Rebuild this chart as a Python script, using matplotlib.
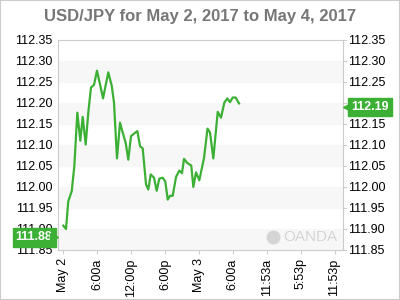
import matplotlib
matplotlib.use("Agg")
import matplotlib.pyplot as plt
import matplotlib.transforms as mtransforms
from matplotlib.patches import Rectangle

# USD/JPY, hours since May 2 00:00 and rate
hours = [0.0, 0.48, 0.88, 1.49, 1.95, 2.48, 3.01, 3.43, 3.96, 4.42, 4.90, 5.43,
         5.96, 6.55, 7.03, 7.96, 8.57, 8.97, 9.50, 10.04, 10.44, 11.04, 11.50,
         11.98, 12.69, 13.10, 13.58, 14.05, 14.64, 15.04, 15.47, 16.05, 16.53,
         16.99, 17.59, 18.05, 18.48, 18.88, 19.36, 19.95, 20.53, 21.01, 21.36,
         21.95, 22.65, 23.01, 23.49, 24.07, 24.90, 25.52, 25.96, 26.55, 27.33,
         27.91, 28.50, 29.03, 29.50, 29.98, 30.51, 31.10]
rate = [111.908, 111.900, 111.966, 111.990, 112.050, 112.177, 112.110, 112.167,
        112.101, 112.177, 112.237, 112.243, 112.277, 112.241, 112.211, 112.273,
        112.241, 112.201, 112.068, 112.153, 112.133, 112.105, 112.065, 112.121,
        112.129, 112.133, 112.097, 112.092, 112.006, 111.994, 112.030, 112.022,
        111.991, 112.020, 112.022, 112.013, 111.970, 111.979, 111.979, 112.024,
        112.039, 112.033, 112.067, 112.057, 112.051, 112.000, 112.035, 112.016,
        112.069, 112.139, 112.130, 112.068, 112.179, 112.165, 112.201, 112.211,
        112.202, 112.213, 112.213, 112.199]

tick_pos = [0, 6, 12, 18, 24, 30, 36, 42, 48]
tick_labels = ["May 2", "6:00a", "12:00p", "6:00p", "May 3", "6:00a",
               "11:53a", "5:53p", "11:53p"]
y_ticks = [111.85, 111.90, 111.95, 112.00, 112.05, 112.10, 112.15, 112.20,
           112.25, 112.30, 112.35]
low_label = 111.88
last_label = 112.19

green = "#3cb035"
plt.rcParams["font.family"] = "Liberation Sans"

fig = plt.figure(figsize=(4, 3), dpi=100)
fig.patches.append(Rectangle((0, 0), 1, 1, transform=fig.transFigure,
                             fill=False, edgecolor="#cccccc", linewidth=1.5))
ax = fig.add_axes([0.145, 0.1667, 0.7125, 0.70])

# alternating bands
for i in range(0, 10, 2):
    ax.axhspan(y_ticks[i], y_ticks[i + 1], color="#f7f7f7", zorder=0)

ax.plot(hours, rate, color=green, linewidth=1.6, zorder=3)

ax.set_xlim(-0.94, 49.5)
ax.set_ylim(111.85, 112.35)
ax.set_xticks(tick_pos)
ax.set_xticklabels(tick_labels, rotation=90, fontsize=9)
ax.set_yticks(y_ticks)
ax.set_yticklabels([f"{v:.2f}" for v in y_ticks], fontsize=9)
ax.tick_params(axis="x", length=3, color="#cccccc", pad=3)
ax.tick_params(axis="y", length=0, pad=4, left=True, right=True,
               labelleft=True, labelright=True)
for s in ax.spines.values():
    s.set_color("#cccccc")

# right-side small ticks
trans = mtransforms.blended_transform_factory(ax.transAxes, ax.transData)
for v in y_ticks:
    ax.plot([1.0, 1.01], [v, v], color="#cccccc", linewidth=0.8,
            transform=trans, clip_on=False)

# price labels with small pointers
ax.annotate(f"{last_label:.2f}", (1.0, last_label), xycoords=trans,
            xytext=(6, 0), textcoords="offset points", fontsize=9,
            fontweight="bold", color="white", va="center", ha="left",
            bbox=dict(boxstyle="square,pad=0.25", fc=green, ec=green),
            zorder=5, annotation_clip=False)
ax.plot([1.0], [last_label], marker="<", markersize=6, color=green,
        transform=mtransforms.offset_copy(trans, fig, x=3.5, units="dots"),
        clip_on=False, zorder=5)
ax.annotate(f"{low_label:.2f}", (0.0, low_label), xycoords=trans,
            xytext=(-4, 0), textcoords="offset points", fontsize=9,
            fontweight="bold", color="white", va="center", ha="right",
            bbox=dict(boxstyle="square,pad=0.25", fc=green, ec=green),
            zorder=5, annotation_clip=False)
ax.plot([0.0], [low_label], marker=">", markersize=6, color=green,
        transform=mtransforms.offset_copy(trans, fig, x=-3.5, units="dots"),
        clip_on=False, zorder=5)

# watermark
ax.plot([0.755], [0.06], marker="o", markersize=9, color="#d5d5d5",
        transform=ax.transAxes, zorder=2)
ax.text(0.79, 0.06, "OANDA", transform=ax.transAxes, fontsize=11,
        color="#d5d5d5", va="center", ha="left", zorder=2)

fig.suptitle("USD/JPY for May 2, 2017 to May 4, 2017", y=0.97,
             fontsize=12, fontweight="bold", color="#777777")

fig.savefig("out.png", dpi=100)
